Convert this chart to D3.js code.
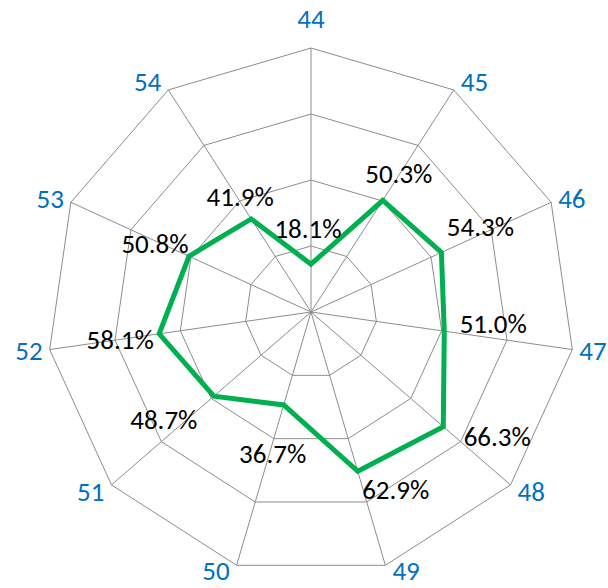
<!DOCTYPE html>
<html lang="en">
  <head>
    <meta charset="utf-8"/>
    <title>Radar</title>
    <style type="text/css">
      body { margin: 0; background: #fff; }
      .grid { fill: none; stroke: #8c8c8c; stroke-width: 1px; }
      .spoke { stroke: #8c8c8c; stroke-width: 1px; }
      .series { fill: none; stroke: #00b050; stroke-width: 5px; stroke-linejoin: miter; }
      .cat { fill: #0070c0; font-family: Carlito, Calibri, "Liberation Sans", sans-serif; font-size: 27px; }
      .val { fill: #000; font-family: Carlito, Calibri, "Liberation Sans", sans-serif; font-size: 27px; }
    </style>
  </head>
  <body>
    <script src="https://d3js.org/d3.v7.min.js"></script>
    <div id="chart"></div>
    <script>
      // data
      var categories = ["44", "45", "46", "47", "48", "49", "50", "51", "52", "53", "54"];
      var values = [18.1, 50.3, 54.3, 51.0, 66.3, 62.9, 36.7, 48.7, 58.1, 50.8, 41.9];
      var ringTicks = [25, 50, 75, 100];

      var width = 608, height = 588,
        cx = 311, cy = 312, radius = 264;

      // little nudges for the value labels, relative to their point
      var labelNudge = [[-3, -36], [16, -27], [39, -26], [49, -8], [54, 10], [38, 18],
                        [-11, 49], [-50, 23], [-39, 6], [-34, -13], [-11, -22]];

      var angle = d3.scalePoint()
        .domain(categories)
        .range([0, 2 * Math.PI * (categories.length - 1) / categories.length]);

      var r = d3.scaleLinear()
        .domain([0, 100])
        .range([0, radius]);

      function pt(cat, v) {
        var a = angle(cat);
        return [cx + r(v) * Math.sin(a), cy - r(v) * Math.cos(a)];
      }

      var svg = d3.select("#chart")
        .append("svg")
          .attr("width", width)
          .attr("height", height);

      // rings
      svg.selectAll(".grid")
          .data(ringTicks)
        .enter().append("polygon")
          .attr("class", "grid")
          .attr("points", function(t) {
            return categories.map(function(c) { return pt(c, t).join(","); }).join(" ");
          });

      // spokes
      svg.selectAll(".spoke")
          .data(categories)
        .enter().append("line")
          .attr("class", "spoke")
          .attr("x1", cx)
          .attr("y1", cy)
          .attr("x2", function(c) { return pt(c, 100)[0]; })
          .attr("y2", function(c) { return pt(c, 100)[1]; });

      // series
      var line = d3.line().curve(d3.curveLinearClosed);
      svg.append("path")
        .attr("class", "series")
        .attr("d", line(categories.map(function(c, i) { return pt(c, values[i]); })));

      // category labels
      svg.selectAll(".cat")
          .data(categories)
        .enter().append("text")
          .attr("class", "cat")
          .attr("dominant-baseline", "central")
          .attr("text-anchor", function(c) {
            var s = Math.sin(angle(c));
            return Math.abs(s) < 0.1 ? "middle" : (s > 0 ? "start" : "end");
          })
          .attr("x", function(c) {
            var s = Math.sin(angle(c));
            var p = pt(c, 100);
            return Math.abs(s) < 0.1 ? p[0] : p[0] + (s > 0 ? 7 : -7);
          })
          .attr("y", function(c) {
            var co = Math.cos(angle(c));
            var p = pt(c, 100);
            var y = Math.abs(Math.sin(angle(c))) < 0.1 ? p[1] - 30 : p[1] - co * 10;
            return Math.min(y, height - 18);
          })
          .text(function(c) { return c; });

      // value labels
      svg.selectAll(".val")
          .data(values)
        .enter().append("text")
          .attr("class", "val")
          .attr("text-anchor", "middle")
          .attr("dominant-baseline", "central")
          .attr("x", function(v, i) { return pt(categories[i], v)[0] + labelNudge[i][0]; })
          .attr("y", function(v, i) { return pt(categories[i], v)[1] + labelNudge[i][1]; })
          .text(function(v) { return d3.format(".1f")(v) + "%"; });
    </script>
  </body>
</html>
